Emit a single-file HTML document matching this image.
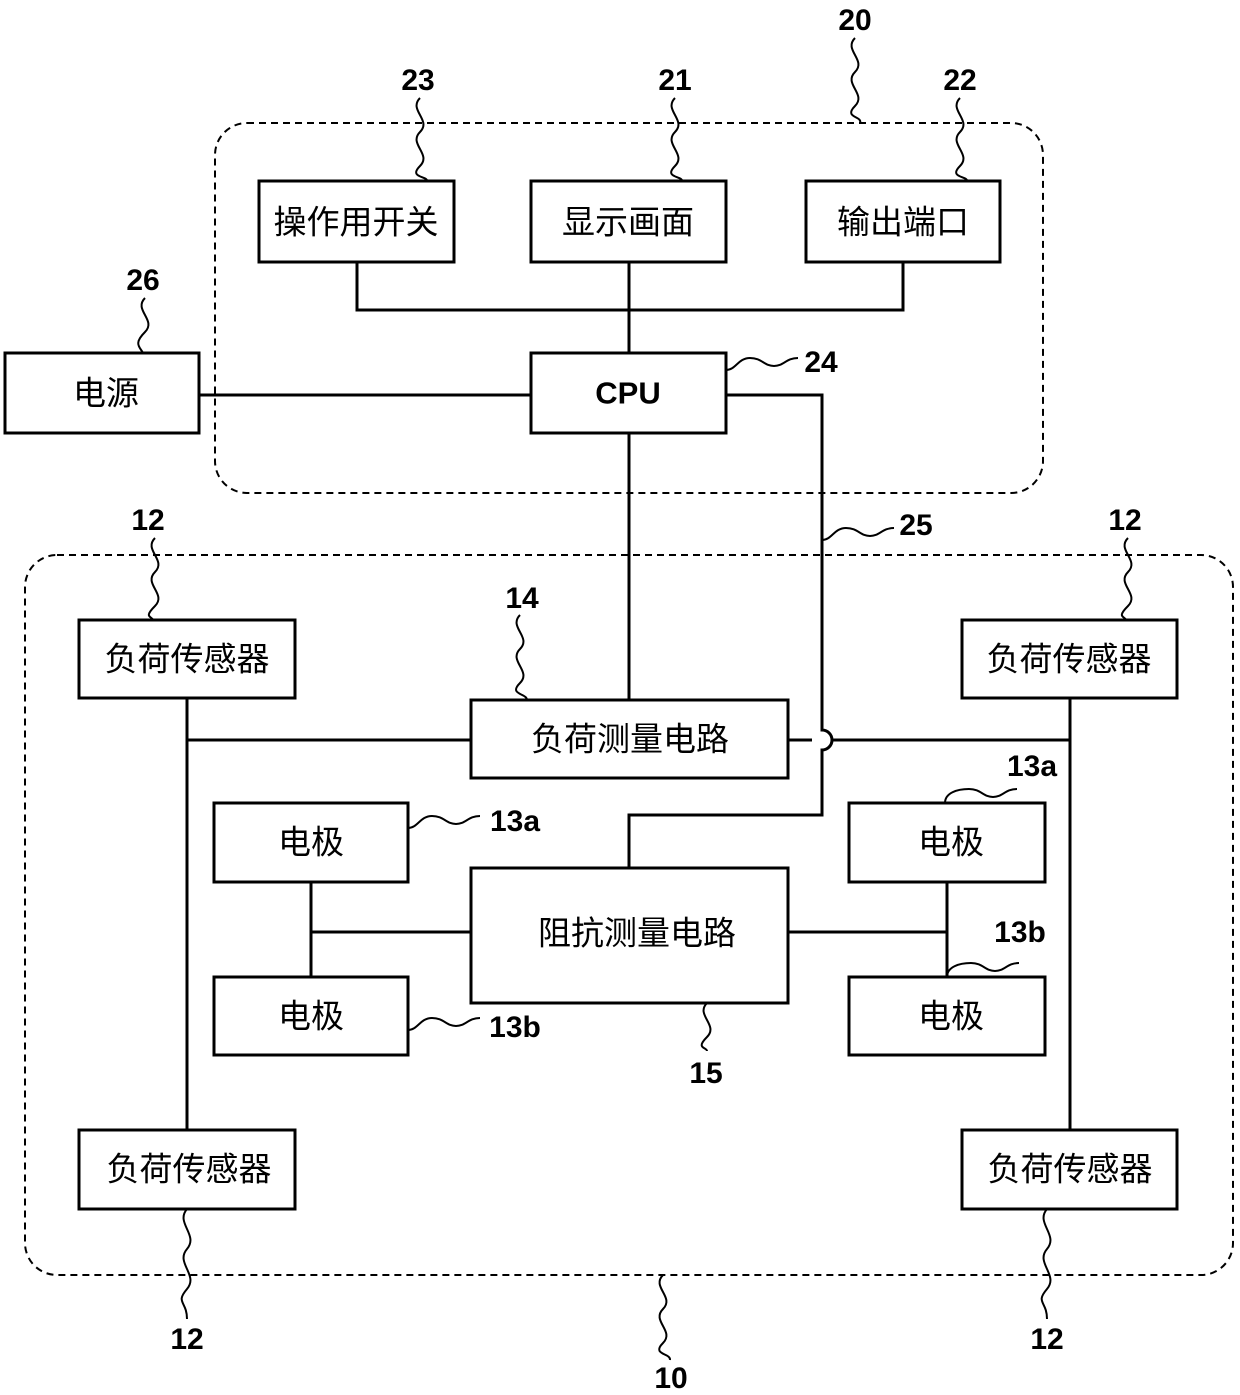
<!DOCTYPE html>
<html><head><meta charset="utf-8"><style>
html,body{margin:0;padding:0;background:#fff}
svg{display:block}
text{font-family:"Liberation Sans","Noto Sans CJK SC",sans-serif;fill:#000}
.c{font-size:33px;text-anchor:middle;dominant-baseline:central}
.n{font-size:30px;font-weight:bold;text-anchor:middle}
</style></head><body>
<svg width="1240" height="1395" viewBox="0 0 1240 1395" xmlns="http://www.w3.org/2000/svg">
<g fill="none" stroke="#000" stroke-width="2" stroke-dasharray="7,5">
<rect x="215" y="123" width="828" height="370" rx="32"/>
<rect x="25" y="555" width="1208" height="720" rx="32"/>
</g>
<g fill="#fff" stroke="#000" stroke-width="3">
<rect x="259" y="181" width="195" height="81"/>
<rect x="531" y="181" width="195" height="81"/>
<rect x="806" y="181" width="194" height="81"/>
<rect x="5" y="353" width="194" height="80"/>
<rect x="531" y="353" width="195" height="80"/>
<rect x="79" y="620" width="216" height="78"/>
<rect x="962" y="620" width="215" height="78"/>
<rect x="471" y="700" width="317" height="78"/>
<rect x="214" y="803" width="194" height="79"/>
<rect x="214" y="977" width="194" height="78"/>
<rect x="471" y="868" width="317" height="135"/>
<rect x="849" y="803" width="196" height="79"/>
<rect x="849" y="977" width="196" height="78"/>
<rect x="79" y="1130" width="216" height="79"/>
<rect x="962" y="1130" width="215" height="79"/>
</g>
<g fill="none" stroke="#000" stroke-width="3">
<path d="M357 262V310H903V262M629 262V353"/>
<path d="M199 395H531"/>
<path d="M629 433V700"/>
<path d="M726 395H822V730A10 10 0 0 1 822 750V815H629V868"/>
<path d="M187 698V1130M187 740H471"/>
<path d="M788 740H812M832 740H1070M1070 698V1130"/>
<path d="M311 882V977M311 932H471"/>
<path d="M788 932H947M947 882V977"/>
</g>
<g fill="none" stroke="#000" stroke-width="2">
<path d="M855 38c-12 12 12 22 0 34s12 22 0 34 8 10 5 17"/>
<path d="M420 98c-12 12 12 22 0 34s12 22 0 34 8 10 7 15"/>
<path d="M675 98c-12 12 12 22 0 34s12 22 0 34 8 10 7 15"/>
<path d="M960 98c-12 12 12 22 0 34s12 22 0 34 8 10 7 15"/>
<path d="M145 298c-12 12 12 22 0 34s-5 15 -2 21"/>
<path d="M726 370c10 0 12-12 24-12s14 8 24 8 12-8 24-8"/>
<path d="M822 540c10 0 12-12 24-12s14 8 24 8 12-8 24-8"/>
<path d="M155 538c-12 12 12 22 0 34s12 22 0 34-3 10 -2 14"/>
<path d="M1128 538c-12 12 12 22 0 34s12 22 0 34-3 10 -2 14"/>
<path d="M520 615c-12 12 12 22 0 34s12 22 0 34 7 10 7 17"/>
<path d="M408 828c10 0 12-12 24-12s14 8 24 8 12-8 24-8"/>
<path d="M408 1030c10 0 12-12 24-12s14 8 24 8 12-8 24-8"/>
<path d="M945 803c0-10 12-14 24-14s14 8 24 8 12-8 24-8"/>
<path d="M947 977c0-10 12-14 24-14s14 8 24 8 12-8 24-8"/>
<path d="M707 1003c-12 12 12 22 0 34s0 10 0 14"/>
<path d="M187 1209c-12 14 12 26 0 40s12 26 0 40 0 12 0 30"/>
<path d="M1047 1209c-12 14 12 26 0 40s12 26 0 40 0 12 0 30"/>
<path d="M663 1275c-12 12 12 22 0 34s12 22 0 34 8 10 7 17"/>
</g>
<g class="c">
<text x="356" y="222">操作用开关</text>
<text x="628" y="222">显示画面</text>
<text x="903" y="222">输出端口</text>
<text x="106" y="393">电源</text>
<text x="628" y="393" style="font-weight:bold;font-size:31px">CPU</text>
<text x="187" y="659">负荷传感器</text>
<text x="1069" y="659">负荷传感器</text>
<text x="630" y="739">负荷测量电路</text>
<text x="311" y="842">电极</text>
<text x="311" y="1016">电极</text>
<text x="637" y="933">阻抗测量电路</text>
<text x="951" y="842">电极</text>
<text x="951" y="1016">电极</text>
<text x="189" y="1169">负荷传感器</text>
<text x="1070" y="1169">负荷传感器</text>
</g>
<g class="n">
<text x="855" y="30">20</text>
<text x="418" y="90">23</text>
<text x="675" y="90">21</text>
<text x="960" y="90">22</text>
<text x="143" y="290">26</text>
<text x="821" y="372">24</text>
<text x="916" y="535">25</text>
<text x="148" y="530">12</text>
<text x="1125" y="530">12</text>
<text x="522" y="608">14</text>
<text x="1032" y="776">13a</text>
<text x="515" y="831">13a</text>
<text x="1020" y="942">13b</text>
<text x="515" y="1037">13b</text>
<text x="706" y="1083">15</text>
<text x="187" y="1349">12</text>
<text x="1047" y="1349">12</text>
<text x="671" y="1388">10</text>
</g>
</svg>
</body></html>
